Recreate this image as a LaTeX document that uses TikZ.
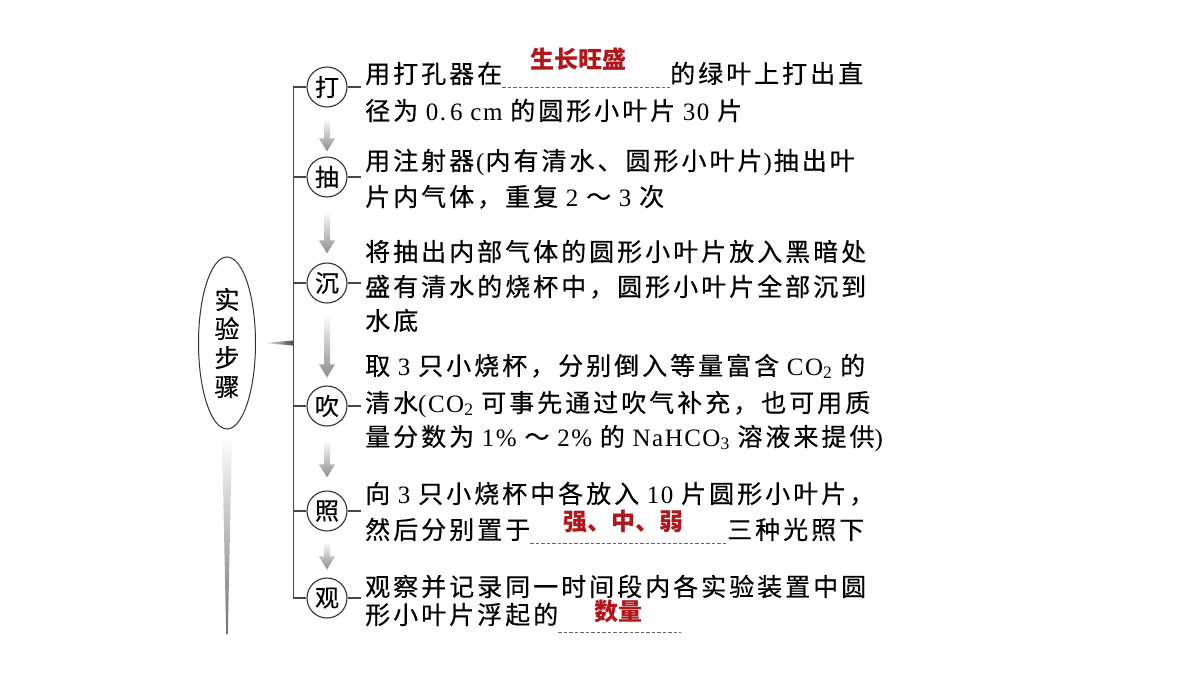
\documentclass[tikz,border=0pt]{standalone}
\usepackage{fontspec}
\usetikzlibrary{shapes.geometric}
\setmainfont{Liberation Serif}[LetterSpace=6]
\newfontfamily\cjk{Noto Sans CJK SC}[LetterSpace=12,FakeBold=0.4]
\newfontfamily\cjkn{Noto Sans CJK SC}[FakeBold=0.4]
\newfontfamily\redf{Noto Sans CJK SC}
\definecolor{ansred}{HTML}{B0161A}
\newcommand\nm[1]{{\rmfamily\ #1\ }}
\newcommand\garrow[2]{\shade[arrsh] ([xshift=-3pt]#1) -- ([xshift=3pt]#1) -- ([shift={(3pt,13pt)}]#2) -- ([shift={(8pt,13pt)}]#2) -- (#2) -- ([shift={(-8pt,13pt)}]#2) -- ([shift={(-3pt,13pt)}]#2) -- cycle;}
\begin{document}
\begin{tikzpicture}[x=1pt,y=1pt,
  txt/.style={anchor=base west, inner sep=0pt, font=\fontsize{25}{30}\selectfont\cjk},
  ans/.style={anchor=base, inner sep=0pt, text=ansred, font=\fontsize{24}{28}\selectfont\redf\bfseries},
  stepc/.style={circle, draw=black!80, line width=1.1pt, minimum size=40pt, inner sep=0pt, font=\fontsize{24}{28}\selectfont\cjkn},
  blank/.style={draw=black!60, dash pattern=on 3.5pt off 2pt, line width=0.8pt},
  brk/.style={draw=black!72, line width=1.4pt},
  arrsh/.style={top color=white, bottom color=black!45}]
\fill[white] (0,0) rectangle (1200,-675);
\path[use as bounding box] (0,0) rectangle (1200,-675);
% ellipse
\node[ellipse, draw=black!80, line width=1pt, minimum width=57pt, minimum height=172pt, inner sep=0pt, align=center, font=\fontsize{25}{29}\selectfont\cjkn] (el) at (227,-343) {实\\验\\步\\骤};
% step circles
\node[stepc] (c1) at (327,-87) {打};
\node[stepc] (c2) at (327,-177) {抽};
\node[stepc] (c3) at (327,-283) {沉};
\node[stepc] (c4) at (327,-406) {吹};
\node[stepc] (c5) at (327,-511) {照};
\node[stepc] (c6) at (327,-598) {观};
% bracket
\draw[brk] ([xshift=-13pt]c1.west) -- ([xshift=-13pt]c6.west);
\foreach \i in {1,...,6}{
  \draw[brk] (c\i.west) -- ++(-13,0);
  \draw[brk] (c\i.east) -- ++(13,0);
}
% wedge from ellipse to bracket
\coordinate (wl) at ([xshift=7pt]el.east);
\coordinate (bk) at (293,-343);
\shade[left color=white, right color=black!70] (wl) -- ([yshift=2.5pt]bk) -- ([yshift=-2.5pt]bk) -- cycle;
% tail below ellipse
\coordinate (tailend) at (227,-634);
\shade[top color=white, bottom color=black!55] ([shift={(-5pt,-8pt)}]el.south) -- ([shift={(5pt,-8pt)}]el.south) -- ([xshift=0.8pt]tailend) -- ([xshift=-0.8pt]tailend) -- cycle;
% arrows
\coordinate (a1) at ([yshift=-10pt]c1.south); \coordinate (b1) at ([yshift=5pt]c2.north);
\coordinate (a2) at ([yshift=-14pt]c2.south); \coordinate (b2) at ([yshift=9pt]c3.north);
\coordinate (a3) at ([yshift=-10pt]c3.south); \coordinate (b3) at ([yshift=8pt]c4.north);
\coordinate (a4) at ([yshift=-14pt]c4.south); \coordinate (b4) at ([yshift=13pt]c5.north);
\coordinate (a5) at ([yshift=-10pt]c5.south); \coordinate (b5) at ([yshift=8pt]c6.north);
\garrow{a1}{b1}
\garrow{a2}{b2}
\garrow{a3}{b3}
\garrow{a4}{b4}
\garrow{a5}{b5}
% texts
\node[txt] (t11a) at (365,-83) {用打孔器在};
\node[txt] (t11b) at (670,-83) {的绿叶上打出直};
\node[txt] (t12) at (365,-120) {径为\nm{0.\kern4pt 6 cm}的圆形小叶片\nm{30}片};
\node[txt] (t21) at (365,-170) {用注射器{\rmfamily\kern2pt(\kern1pt}内有清水、圆形小叶片{\rmfamily\kern1pt)\kern2pt}抽出叶};
\node[txt] (t22) at (365,-206) {片内气体，重复\nm{2}～\nm{3}次};
\node[txt] (t31) at (365,-261) {将抽出内部气体的圆形小叶片放入黑暗处};
\node[txt] (t32) at (365,-296) {盛有清水的烧杯中，圆形小叶片全部沉到};
\node[txt] (t33) at (365,-330) {水底};
\node[txt] (t41) at (365,-375) {取\nm{3}只小烧杯，分别倒入等量富含\nm{CO\textsubscript{2}}的};
\node[txt] (t42) at (365,-412) {清水{\rmfamily (CO\textsubscript{2}\ }可事先通过吹气补充，也可用质};
\node[txt] (t43) at (365,-446) {量分数为\nm{1\%}～\nm{2\%}的\nm{NaHCO\textsubscript{3}}溶液来提供{\rmfamily )}};
\node[txt] (t51) at (365,-503) {向\nm{3}只小烧杯中各放入\nm{10}片圆形小叶片，};
\node[txt] (t52a) at (365,-539) {然后分别置于};
\node[txt] (t52b) at (727,-539) {三种光照下};
\node[txt] (t61) at (365,-596) {观察并记录同一时间段内各实验装置中圆};
\node[txt] (t62a) at (365,-624) {形小叶片浮起的};
\coordinate (t62b) at (681,-624);
% blanks
\draw[blank] ([yshift=-4pt]t11a.base east) -- ([yshift=-4pt]t11b.base west);
\draw[blank] ([yshift=-4pt]t52a.base east) -- ([yshift=-4pt]t52b.base west);
\draw[blank] ([yshift=-8pt]t62a.base east) -- ([yshift=-8pt]t62b);
% answers
\node[ans] (r1) at (578,-68) {生长旺盛};
\node[ans] (r2) at (623,-530) {强、中、弱};
\node[ans] (r3) at (618,-620) {数量};
\end{tikzpicture}
\end{document}
